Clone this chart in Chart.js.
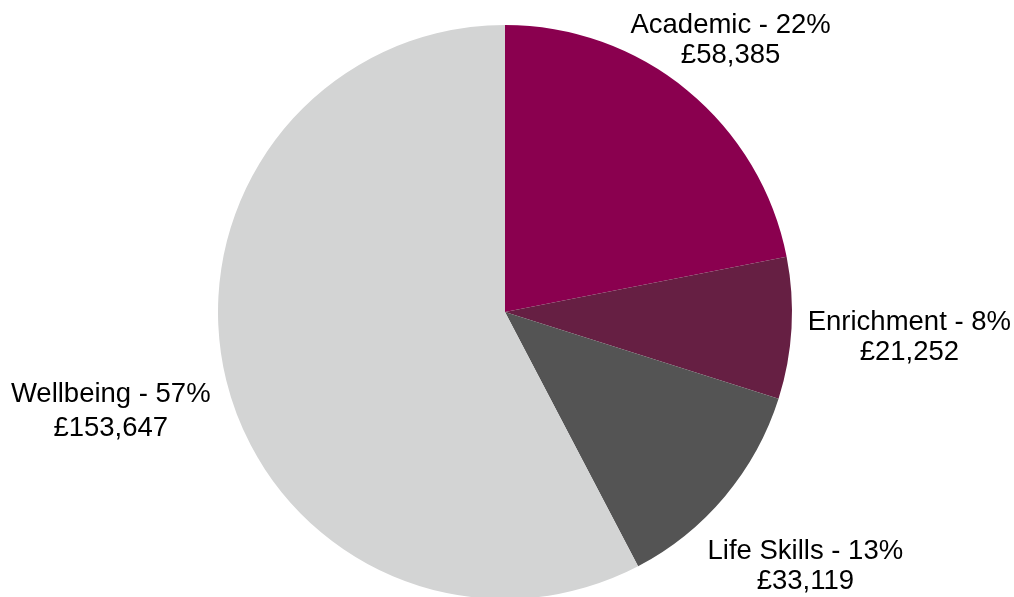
<!DOCTYPE html>
<html>
<head>
<meta charset="utf-8">
<script src="https://cdn.jsdelivr.net/npm/chart.js@4/dist/chart.umd.min.js"></script>
<style>
  html, body { margin: 0; padding: 0; background: #ffffff; }
  #wrap { width: 1014px; height: 597px; position: relative; }
</style>
</head>
<body>
<div id="wrap"><canvas id="c" width="1014" height="597"></canvas></div>
<script>
const categories = ["Academic", "Enrichment", "Life Skills", "Wellbeing"];
const amounts = [58385, 21252, 33119, 153647];
const percentLabels = ["22%", "8%", "13%", "57%"];
const colors = ["#8A004F", "#661F43", "#545454", "#D3D4D4"];

// label distance beyond the pie edge (px) and line gap per label
const labelOffsets = [68, 118, 105, 119];
const lineGaps = [30, 30, 30, 34];

const fmt = v => "£" + v.toLocaleString("en-GB");

const outsideLabels = {
  id: "outsideLabels",
  afterDatasetsDraw(chart) {
    const ctx = chart.ctx;
    const meta = chart.getDatasetMeta(0);
    ctx.save();
    ctx.fillStyle = "#000000";
    ctx.font = "27.5px 'Liberation Sans', Arial, sans-serif";
    ctx.textAlign = "center";
    ctx.textBaseline = "alphabetic";
    meta.data.forEach((arc, i) => {
      const p = arc.getProps(["x", "y", "startAngle", "endAngle", "outerRadius"], true);
      const mid = (p.startAngle + p.endAngle) / 2;
      const d = p.outerRadius + labelOffsets[i];
      const px = p.x + Math.cos(mid) * d;
      const py = p.y + Math.sin(mid) * d;
      const g = lineGaps[i];
      ctx.fillText(categories[i] + " - " + percentLabels[i], px, py - g / 2 + 10);
      ctx.fillText(fmt(amounts[i]), px, py + g / 2 + 10);
    });
    ctx.restore();
  }
};

new Chart(document.getElementById("c"), {
  type: "pie",
  data: {
    labels: categories,
    datasets: [{
      data: amounts,
      backgroundColor: colors,
      borderWidth: 0,
      radius: 287
    }]
  },
  options: {
    responsive: false,
    animation: false,
    layout: { padding: { top: 27, bottom: 0, left: 0, right: 4 } },
    plugins: {
      legend: { display: false },
      tooltip: { enabled: false }
    }
  },
  plugins: [outsideLabels]
});
</script>
</body>
</html>
